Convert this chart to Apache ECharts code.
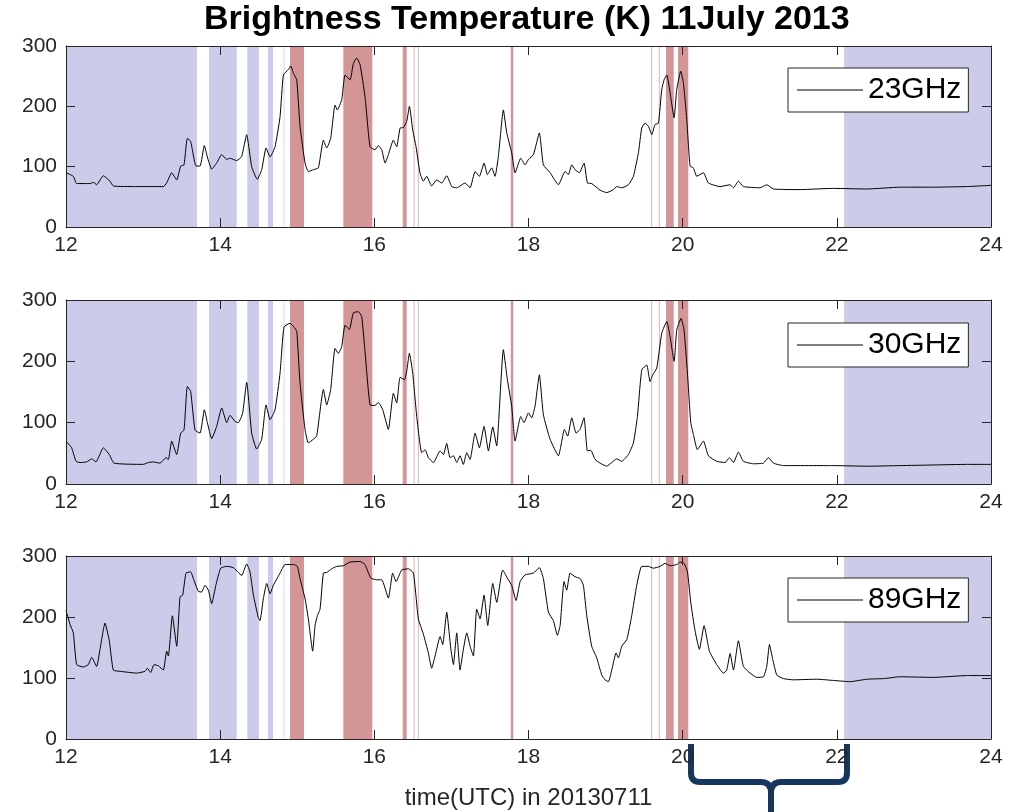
<!DOCTYPE html>
<html><head><meta charset="utf-8">
<script src="https://cdn.jsdelivr.net/npm/echarts@6/dist/echarts.min.js"></script>
<style>html,body{margin:0;padding:0;background:#fff}#c{width:1015px;height:812px}</style>
</head><body><div id="c"></div>
<script>
// ---- data ----
const seriesNames = ['23GHz', '30GHz', '89GHz'];
const t23 = [12.000,12.095,12.138,12.311,12.355,12.398,12.484,12.571,12.614,12.900,13.263,13.306,13.371,13.436,13.488,13.531,13.574,13.617,13.687,13.739,13.795,13.834,13.890,13.955,14.020,14.085,14.128,14.214,14.279,14.344,14.409,14.482,14.539,14.595,14.647,14.712,14.777,14.820,14.885,14.915,14.950,14.993,15.036,15.101,15.144,15.209,15.274,15.339,15.382,15.434,15.490,15.520,15.577,15.620,15.685,15.728,15.771,15.815,15.879,15.944,16.009,16.052,16.096,16.139,16.182,16.247,16.290,16.334,16.377,16.420,16.455,16.498,16.541,16.593,16.636,16.680,16.744,16.809,16.874,16.939,17.004,17.069,17.112,17.177,17.242,17.307,17.363,17.423,17.467,17.523,17.566,17.609,17.674,17.718,17.782,17.826,17.899,17.955,17.999,18.064,18.141,18.193,18.280,18.388,18.474,18.518,18.561,18.604,18.660,18.721,18.764,18.820,18.929,19.015,19.102,19.145,19.210,19.296,19.361,19.426,19.469,19.512,19.556,19.599,19.642,19.685,19.729,19.759,19.794,19.837,19.889,19.923,19.975,20.010,20.053,20.096,20.139,20.183,20.269,20.334,20.485,20.615,20.659,20.723,20.788,21.004,21.091,21.178,21.524,21.956,22.389,22.821,23.254,23.686,24.000];
const v23 = [90,84,72,72,74,70,85,76,68,67,67,73,90,78,101,103,147,142,101,101,135,116,96,106,120,112,114,110,117,153,100,79,95,131,116,133,183,252,261,267,255,244,167,106,92,95,98,144,131,147,202,194,211,252,244,271,280,269,216,133,128,135,128,106,120,144,133,164,165,175,200,161,133,89,76,84,68,78,73,85,67,65,68,73,65,92,84,106,87,98,84,117,194,156,123,90,114,103,112,120,156,103,90,70,92,87,103,95,90,106,73,72,61,57,62,67,65,70,84,123,164,172,167,153,170,172,228,244,252,222,181,228,258,239,178,101,98,84,90,73,67,70,65,76,67,65,70,63,62,64,63,66,66,67,69];

const t30 = [12.000,12.073,12.130,12.182,12.268,12.333,12.389,12.484,12.562,12.623,13.003,13.068,13.133,13.220,13.297,13.328,13.371,13.436,13.488,13.531,13.574,13.617,13.674,13.739,13.795,13.834,13.890,13.955,14.020,14.085,14.128,14.193,14.236,14.292,14.344,14.409,14.474,14.539,14.595,14.647,14.712,14.777,14.828,14.906,14.950,14.993,15.036,15.101,15.144,15.209,15.252,15.339,15.382,15.434,15.490,15.533,15.577,15.620,15.676,15.728,15.793,15.836,15.879,15.944,16.009,16.052,16.109,16.182,16.247,16.290,16.334,16.390,16.420,16.455,16.498,16.550,16.615,16.658,16.701,16.766,16.853,16.896,16.939,16.982,17.026,17.069,17.112,17.155,17.199,17.242,17.307,17.363,17.423,17.480,17.536,17.588,17.609,17.674,17.726,17.782,17.826,17.899,17.942,17.999,18.042,18.085,18.141,18.193,18.280,18.388,18.466,18.509,18.561,18.617,18.669,18.721,18.764,18.807,18.864,18.929,19.015,19.080,19.145,19.210,19.296,19.361,19.413,19.469,19.534,19.577,19.612,19.664,19.729,19.794,19.837,19.889,19.923,19.979,20.018,20.062,20.105,20.139,20.191,20.269,20.334,20.442,20.550,20.607,20.659,20.723,20.788,20.918,21.048,21.113,21.178,21.307,21.956,22.389,22.821,23.254,23.686,24.000];
const v30 = [70,59,37,35,36,41,36,59,48,34,32,35,36,34,43,40,70,48,83,88,159,151,88,83,121,100,74,94,124,100,112,102,100,116,166,83,57,73,129,105,121,181,256,262,257,249,165,89,67,73,78,154,129,154,221,213,224,259,252,279,281,273,216,129,128,133,121,89,148,132,174,170,184,213,181,110,51,56,43,35,54,48,66,43,46,35,46,32,51,40,83,59,94,54,93,62,94,219,170,127,70,110,100,116,108,127,178,113,73,46,89,78,108,83,89,108,54,55,40,34,29,35,41,37,48,67,110,186,194,167,178,189,246,265,240,200,251,270,251,181,100,81,56,70,46,37,35,43,35,52,37,33,34,43,34,30,30,29,30,31,32,32];

const t89 = [12.000,12.052,12.095,12.138,12.225,12.290,12.333,12.398,12.441,12.506,12.562,12.614,12.701,12.917,13.025,13.055,13.098,13.142,13.198,13.263,13.306,13.328,13.380,13.436,13.479,13.514,13.557,13.617,13.652,13.717,13.760,13.803,13.847,13.890,13.946,14.007,14.085,14.171,14.236,14.279,14.344,14.387,14.431,14.495,14.517,14.560,14.604,14.647,14.690,14.777,14.841,14.950,15.001,15.036,15.101,15.144,15.200,15.231,15.261,15.296,15.339,15.382,15.447,15.512,15.598,15.685,15.815,15.879,15.953,16.031,16.096,16.182,16.238,16.282,16.355,16.442,16.507,16.571,16.636,16.701,16.744,16.788,16.853,16.887,16.939,16.991,17.026,17.069,17.112,17.155,17.199,17.242,17.285,17.328,17.372,17.423,17.471,17.536,17.588,17.665,17.739,17.782,17.839,17.891,17.955,18.064,18.141,18.193,18.258,18.323,18.375,18.410,18.461,18.496,18.539,18.604,18.669,18.712,18.756,18.820,18.885,18.950,18.993,19.037,19.080,19.136,19.166,19.210,19.275,19.339,19.404,19.469,19.556,19.620,19.707,19.772,19.837,19.923,19.967,20.018,20.062,20.105,20.161,20.217,20.278,20.347,20.442,20.529,20.572,20.615,20.659,20.723,20.788,20.875,20.961,21.048,21.091,21.126,21.169,21.221,21.307,21.437,21.740,21.956,22.172,22.389,22.605,22.821,23.254,23.686,24.000];
const v89 = [211,188,174,122,118,122,134,119,147,190,161,113,111,108,111,116,109,122,120,113,144,136,202,152,233,236,272,274,263,242,241,252,244,222,253,280,283,281,273,268,287,274,236,199,194,230,255,238,252,272,286,286,283,263,230,197,144,186,202,213,272,273,279,283,284,290,291,286,264,261,261,231,272,258,277,279,272,197,172,141,116,136,168,155,208,149,122,174,113,147,174,152,136,213,197,236,186,255,224,277,261,252,227,258,269,272,281,263,208,194,170,186,258,244,272,266,263,252,202,152,133,105,97,94,113,141,133,152,163,202,252,283,283,280,283,288,284,286,290,288,274,224,177,147,186,144,122,108,113,140,113,161,119,108,101,102,119,155,130,105,99,97,98,96,94,98,99,102,101,104,104];

// shaded time ranges (hours UTC)
const blueBands = [[12,13.70],[13.855,14.215],[14.352,14.504],[14.62,14.686],[22.094,24]];
const faintBlueBands = [[14.822,14.836]];
const redBands = [[14.906,15.088],[15.598,15.974],[16.368,16.42],[17.77,17.803],[19.784,19.884],[19.94,20.073]];
const faintRedBands = [[16.509,16.522],[16.564,16.577],[19.592,19.605],[19.691,19.704]];

// ---- chart ----
const FONT = '"Liberation Sans", Arial, Helvetica, sans-serif';
const AX = '#262626';
const layout = [{top:46,h:181,lt:68},{top:300,h:184,lt:323},{top:556,h:183,lt:578}];
const times = [t23,t30,t89], vals = [v23,v30,v89];
const grid=[], xAxis=[], yAxis=[], series=[], legend=[];
const toArea = (b,c) => b.map(r => [{xAxis:r[0], itemStyle:{color:c, opacity:1}}, {xAxis:r[1]}]);

layout.forEach((L,i) => {
  grid.push({left:66, right:24, top:L.top, height:L.h, containLabel:false});
  const xc = {gridIndex:i, type:'value', min:12, max:24, interval:2, z:5,
    splitLine:{show:false},
    axisLine:{show:true, onZero:false, lineStyle:{color:AX, width:1}},
    axisTick:{show:true, inside:true, length:9, lineStyle:{color:AX}}};
  const xb = Object.assign({}, xc, {position:'bottom',
    axisLabel:{fontSize:21, color:AX, fontFamily:FONT, margin:8}});
  if (i === 2) Object.assign(xb, {name:'time(UTC) in 20130711', nameLocation:'middle', nameGap:47,
    nameTextStyle:{fontSize:24, color:AX, fontFamily:FONT}});
  xAxis.push(xb);
  xAxis.push(Object.assign({}, xc, {position:'top', axisLabel:{show:false}}));
  const yc = {gridIndex:i, type:'value', min:0, max:300, interval:100, z:5,
    splitLine:{show:false},
    axisLine:{show:true, onZero:false, lineStyle:{color:AX, width:1}},
    axisTick:{show:true, inside:true, length:9, lineStyle:{color:AX}}};
  yAxis.push(Object.assign({}, yc, {position:'left', axisLabel:{fontSize:21, color:AX, fontFamily:FONT, margin:9}}));
  yAxis.push(Object.assign({}, yc, {position:'right', axisLabel:{show:false}}));

  series.push({type:'line', name:'bands'+i, xAxisIndex:2*i, yAxisIndex:2*i, data:[], z:1, silent:true,
    markArea:{silent:true, data:[].concat(toArea(blueBands,'#cbcce9'), toArea(faintBlueBands,'#dadbf0'),
      toArea(redBands,'#d39596'), toArea(faintRedBands,'#e3b3b3'))}});
  series.push({type:'line', name:seriesNames[i], xAxisIndex:2*i, yAxisIndex:2*i,
    data: times[i].map((t,k) => [t, vals[i][k]]),
    symbol:'none', showSymbol:false, z:3, smooth:0.15,
    lineStyle:{color:'#000', width:1}, itemStyle:{color:'#000'}});
  legend.push({data:[{name:seriesNames[i], icon:'rect'}], left:788, top:L.lt, orient:'horizontal',
    backgroundColor:'#fff', borderColor:AX, borderWidth:1, borderRadius:0,
    padding:[7,7,7,9], itemWidth:66, itemHeight:1, selectedMode:false,
    itemStyle:{color:'#000', borderWidth:0}, lineStyle:{width:0},
    textStyle:{fontSize:30, color:'#000', fontFamily:FONT}});
});

const chart = echarts.init(document.getElementById('c'), null, {renderer:'canvas'});
chart.setOption({
  animation:false,
  backgroundColor:'#fff',
  title:{text:'Brightness Temperature (K) 11July 2013', left:204, top:3, padding:0,
    textStyle:{fontSize:34, fontWeight:'bold', color:'#000', fontFamily:FONT}},
  grid, xAxis, yAxis, series, legend,
  graphic:[{type:'group', z:100, children:[
    {type:'line', shape:{x1:691,y1:744,x2:691,y2:773}, style:{stroke:'#17375e', lineWidth:6}},
    {type:'bezierCurve', shape:{x1:691,y1:773,cpx1:691,cpy1:782,x2:700,y2:782}, style:{stroke:'#17375e', lineWidth:6, fill:null}},
    {type:'line', shape:{x1:700,y1:782,x2:761,y2:782}, style:{stroke:'#17375e', lineWidth:6}},
    {type:'bezierCurve', shape:{x1:761,y1:782,cpx1:771,cpy1:782,x2:771,y2:793}, style:{stroke:'#17375e', lineWidth:6, fill:null}},
    {type:'line', shape:{x1:771,y1:793,x2:771,y2:812}, style:{stroke:'#17375e', lineWidth:6}},
    {type:'bezierCurve', shape:{x1:771,y1:793,cpx1:771,cpy1:782,x2:781,y2:782}, style:{stroke:'#17375e', lineWidth:6, fill:null}},
    {type:'line', shape:{x1:781,y1:782,x2:838,y2:782}, style:{stroke:'#17375e', lineWidth:6}},
    {type:'bezierCurve', shape:{x1:838,y1:782,cpx1:847,cpy1:782,x2:847,y2:773}, style:{stroke:'#17375e', lineWidth:6, fill:null}},
    {type:'line', shape:{x1:847,y1:773,x2:847,y2:744}, style:{stroke:'#17375e', lineWidth:6}}
  ]}]
});
</script></body></html>
